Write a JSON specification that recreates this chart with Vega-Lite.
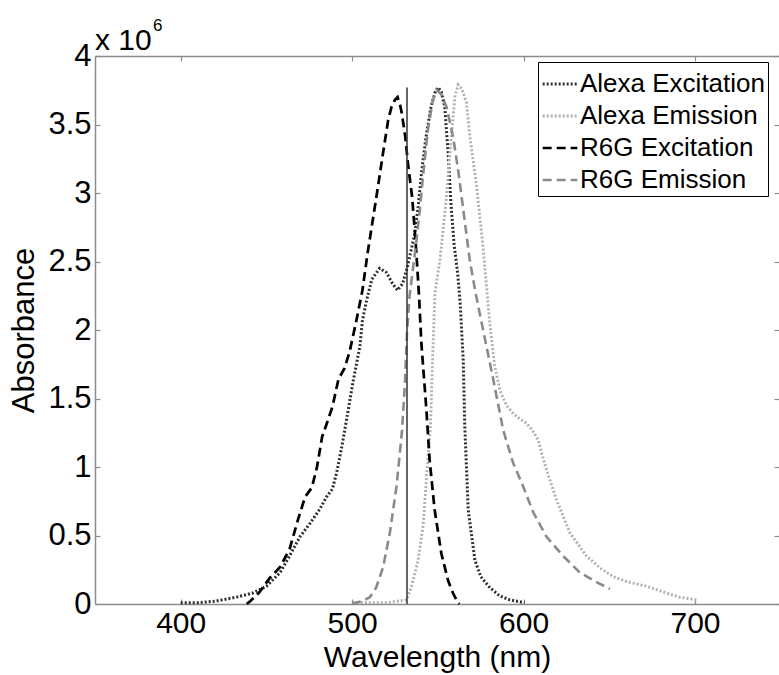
{
  "$schema": "https://vega.github.io/schema/vega-lite/v6.json",
  "width": 684,
  "height": 548,
  "autosize": {"type": "none"},
  "padding": {"left": 95, "top": 56, "right": 0, "bottom": 71},
  "background": "white",
  "config": {
    "view": {"stroke": null},
    "font": "Liberation Sans",
    "axis": {
      "grid": false,
      "domainColor": "#8c8c8c",
      "domainWidth": 1.5,
      "tickColor": "#8c8c8c",
      "tickWidth": 1.2,
      "tickSize": -5,
      "labelColor": "#000000",
      "titleColor": "#000000",
      "labelFont": "Liberation Sans",
      "titleFont": "Liberation Sans",
      "titleFontWeight": "normal",
      "labelFontSize": 31,
      "titleFontSize": 31
    }
  },
  "datasets": {
    "spectra": [
      {"series": "Alexa Excitation", "wl": 400, "a": 10000},
      {"series": "Alexa Excitation", "wl": 410, "a": 10000},
      {"series": "Alexa Excitation", "wl": 420, "a": 20000},
      {"series": "Alexa Excitation", "wl": 432.5, "a": 50000},
      {"series": "Alexa Excitation", "wl": 442, "a": 80000},
      {"series": "Alexa Excitation", "wl": 450, "a": 130000},
      {"series": "Alexa Excitation", "wl": 458, "a": 230000},
      {"series": "Alexa Excitation", "wl": 463.5, "a": 350000},
      {"series": "Alexa Excitation", "wl": 469.5, "a": 490000},
      {"series": "Alexa Excitation", "wl": 475.5, "a": 590000},
      {"series": "Alexa Excitation", "wl": 481, "a": 690000},
      {"series": "Alexa Excitation", "wl": 485, "a": 780000},
      {"series": "Alexa Excitation", "wl": 488.5, "a": 840000},
      {"series": "Alexa Excitation", "wl": 491, "a": 960000},
      {"series": "Alexa Excitation", "wl": 494, "a": 1150000},
      {"series": "Alexa Excitation", "wl": 497.5, "a": 1400000},
      {"series": "Alexa Excitation", "wl": 500.5, "a": 1620000},
      {"series": "Alexa Excitation", "wl": 504.5, "a": 1880000},
      {"series": "Alexa Excitation", "wl": 506, "a": 2070000},
      {"series": "Alexa Excitation", "wl": 508.5, "a": 2220000},
      {"series": "Alexa Excitation", "wl": 511.5, "a": 2370000},
      {"series": "Alexa Excitation", "wl": 516, "a": 2450000},
      {"series": "Alexa Excitation", "wl": 520, "a": 2420000},
      {"series": "Alexa Excitation", "wl": 523.5, "a": 2340000},
      {"series": "Alexa Excitation", "wl": 526.5, "a": 2290000},
      {"series": "Alexa Excitation", "wl": 529.5, "a": 2340000},
      {"series": "Alexa Excitation", "wl": 532, "a": 2450000},
      {"series": "Alexa Excitation", "wl": 534, "a": 2560000},
      {"series": "Alexa Excitation", "wl": 536.5, "a": 2700000},
      {"series": "Alexa Excitation", "wl": 538.5, "a": 2900000},
      {"series": "Alexa Excitation", "wl": 540.5, "a": 3150000},
      {"series": "Alexa Excitation", "wl": 543, "a": 3400000},
      {"series": "Alexa Excitation", "wl": 546, "a": 3630000},
      {"series": "Alexa Excitation", "wl": 548.5, "a": 3740000},
      {"series": "Alexa Excitation", "wl": 550.2, "a": 3770000},
      {"series": "Alexa Excitation", "wl": 552, "a": 3740000},
      {"series": "Alexa Excitation", "wl": 554, "a": 3630000},
      {"series": "Alexa Excitation", "wl": 556, "a": 3290000},
      {"series": "Alexa Excitation", "wl": 557.6, "a": 2930000},
      {"series": "Alexa Excitation", "wl": 559.5, "a": 2620000},
      {"series": "Alexa Excitation", "wl": 561.5, "a": 2420000},
      {"series": "Alexa Excitation", "wl": 563, "a": 2200000},
      {"series": "Alexa Excitation", "wl": 564.8, "a": 1780000},
      {"series": "Alexa Excitation", "wl": 565.7, "a": 1300000},
      {"series": "Alexa Excitation", "wl": 567.7, "a": 690000},
      {"series": "Alexa Excitation", "wl": 571.6, "a": 320000},
      {"series": "Alexa Excitation", "wl": 575, "a": 200000},
      {"series": "Alexa Excitation", "wl": 580.3, "a": 120000},
      {"series": "Alexa Excitation", "wl": 586, "a": 60000},
      {"series": "Alexa Excitation", "wl": 592, "a": 30000},
      {"series": "Alexa Excitation", "wl": 600.5, "a": 10000},

      {"series": "Alexa Emission", "wl": 500.4, "a": 10000},
      {"series": "Alexa Emission", "wl": 510, "a": 10000},
      {"series": "Alexa Emission", "wl": 520, "a": 10000},
      {"series": "Alexa Emission", "wl": 526, "a": 20000},
      {"series": "Alexa Emission", "wl": 531.8, "a": 30000},
      {"series": "Alexa Emission", "wl": 534.7, "a": 130000},
      {"series": "Alexa Emission", "wl": 538.5, "a": 320000},
      {"series": "Alexa Emission", "wl": 541.4, "a": 570000},
      {"series": "Alexa Emission", "wl": 543.4, "a": 930000},
      {"series": "Alexa Emission", "wl": 545.7, "a": 1300000},
      {"series": "Alexa Emission", "wl": 546.9, "a": 1780000},
      {"series": "Alexa Emission", "wl": 548.3, "a": 2270000},
      {"series": "Alexa Emission", "wl": 551.3, "a": 2520000},
      {"series": "Alexa Emission", "wl": 554.7, "a": 2930000},
      {"series": "Alexa Emission", "wl": 557, "a": 3290000},
      {"series": "Alexa Emission", "wl": 558.7, "a": 3530000},
      {"series": "Alexa Emission", "wl": 559.9, "a": 3700000},
      {"series": "Alexa Emission", "wl": 561.8, "a": 3790000},
      {"series": "Alexa Emission", "wl": 564, "a": 3760000},
      {"series": "Alexa Emission", "wl": 566.7, "a": 3660000},
      {"series": "Alexa Emission", "wl": 568.7, "a": 3410000},
      {"series": "Alexa Emission", "wl": 572.6, "a": 3050000},
      {"series": "Alexa Emission", "wl": 576.4, "a": 2600000},
      {"series": "Alexa Emission", "wl": 578, "a": 2370000},
      {"series": "Alexa Emission", "wl": 580.3, "a": 2050000},
      {"series": "Alexa Emission", "wl": 583, "a": 1750000},
      {"series": "Alexa Emission", "wl": 586.2, "a": 1560000},
      {"series": "Alexa Emission", "wl": 590, "a": 1450000},
      {"series": "Alexa Emission", "wl": 594, "a": 1390000},
      {"series": "Alexa Emission", "wl": 598, "a": 1350000},
      {"series": "Alexa Emission", "wl": 601.7, "a": 1320000},
      {"series": "Alexa Emission", "wl": 605, "a": 1270000},
      {"series": "Alexa Emission", "wl": 608.5, "a": 1200000},
      {"series": "Alexa Emission", "wl": 611, "a": 1080000},
      {"series": "Alexa Emission", "wl": 613.4, "a": 980000},
      {"series": "Alexa Emission", "wl": 619.2, "a": 760000},
      {"series": "Alexa Emission", "wl": 627, "a": 520000},
      {"series": "Alexa Emission", "wl": 636.7, "a": 350000},
      {"series": "Alexa Emission", "wl": 645, "a": 260000},
      {"series": "Alexa Emission", "wl": 652.2, "a": 200000},
      {"series": "Alexa Emission", "wl": 661, "a": 160000},
      {"series": "Alexa Emission", "wl": 671.7, "a": 130000},
      {"series": "Alexa Emission", "wl": 681, "a": 90000},
      {"series": "Alexa Emission", "wl": 691, "a": 50000},
      {"series": "Alexa Emission", "wl": 700.8, "a": 30000},

      {"series": "R6G Excitation", "wl": 438.5, "a": 0},
      {"series": "R6G Excitation", "wl": 440.5, "a": 20000},
      {"series": "R6G Excitation", "wl": 445.5, "a": 80000},
      {"series": "R6G Excitation", "wl": 452, "a": 190000},
      {"series": "R6G Excitation", "wl": 458, "a": 270000},
      {"series": "R6G Excitation", "wl": 463.5, "a": 400000},
      {"series": "R6G Excitation", "wl": 468.5, "a": 620000},
      {"series": "R6G Excitation", "wl": 472.5, "a": 780000},
      {"series": "R6G Excitation", "wl": 476.5, "a": 850000},
      {"series": "R6G Excitation", "wl": 479.5, "a": 1000000},
      {"series": "R6G Excitation", "wl": 482.5, "a": 1220000},
      {"series": "R6G Excitation", "wl": 485, "a": 1310000},
      {"series": "R6G Excitation", "wl": 488.5, "a": 1440000},
      {"series": "R6G Excitation", "wl": 492, "a": 1640000},
      {"series": "R6G Excitation", "wl": 495.5, "a": 1720000},
      {"series": "R6G Excitation", "wl": 498.5, "a": 1840000},
      {"series": "R6G Excitation", "wl": 502.5, "a": 2070000},
      {"series": "R6G Excitation", "wl": 506, "a": 2290000},
      {"series": "R6G Excitation", "wl": 509, "a": 2560000},
      {"series": "R6G Excitation", "wl": 512, "a": 2800000},
      {"series": "R6G Excitation", "wl": 514.5, "a": 3000000},
      {"series": "R6G Excitation", "wl": 518, "a": 3290000},
      {"series": "R6G Excitation", "wl": 521, "a": 3530000},
      {"series": "R6G Excitation", "wl": 523, "a": 3630000},
      {"series": "R6G Excitation", "wl": 525, "a": 3680000},
      {"series": "R6G Excitation", "wl": 526.5, "a": 3700000},
      {"series": "R6G Excitation", "wl": 528, "a": 3640000},
      {"series": "R6G Excitation", "wl": 529, "a": 3580000},
      {"series": "R6G Excitation", "wl": 531, "a": 3410000},
      {"series": "R6G Excitation", "wl": 532.5, "a": 3220000},
      {"series": "R6G Excitation", "wl": 535, "a": 2970000},
      {"series": "R6G Excitation", "wl": 536.5, "a": 2730000},
      {"series": "R6G Excitation", "wl": 537.6, "a": 2540000},
      {"series": "R6G Excitation", "wl": 539, "a": 2250000},
      {"series": "R6G Excitation", "wl": 540.4, "a": 1900000},
      {"series": "R6G Excitation", "wl": 543.3, "a": 1420000},
      {"series": "R6G Excitation", "wl": 545.2, "a": 1050000},
      {"series": "R6G Excitation", "wl": 548.1, "a": 690000},
      {"series": "R6G Excitation", "wl": 552, "a": 370000},
      {"series": "R6G Excitation", "wl": 556, "a": 170000},
      {"series": "R6G Excitation", "wl": 558.8, "a": 80000},
      {"series": "R6G Excitation", "wl": 561.7, "a": 10000},
      {"series": "R6G Excitation", "wl": 562.5, "a": 0},

      {"series": "R6G Emission", "wl": 500, "a": 0},
      {"series": "R6G Emission", "wl": 502, "a": 10000},
      {"series": "R6G Emission", "wl": 506, "a": 20000},
      {"series": "R6G Emission", "wl": 510.3, "a": 50000},
      {"series": "R6G Emission", "wl": 514, "a": 120000},
      {"series": "R6G Emission", "wl": 518.1, "a": 270000},
      {"series": "R6G Emission", "wl": 522, "a": 520000},
      {"series": "R6G Emission", "wl": 525.9, "a": 860000},
      {"series": "R6G Emission", "wl": 529, "a": 1250000},
      {"series": "R6G Emission", "wl": 530.8, "a": 1610000},
      {"series": "R6G Emission", "wl": 532, "a": 1980000},
      {"series": "R6G Emission", "wl": 533.5, "a": 2250000},
      {"series": "R6G Emission", "wl": 535.5, "a": 2450000},
      {"series": "R6G Emission", "wl": 537.5, "a": 2650000},
      {"series": "R6G Emission", "wl": 539.5, "a": 2880000},
      {"series": "R6G Emission", "wl": 541.3, "a": 3120000},
      {"series": "R6G Emission", "wl": 544.2, "a": 3460000},
      {"series": "R6G Emission", "wl": 547.1, "a": 3680000},
      {"series": "R6G Emission", "wl": 549.5, "a": 3750000},
      {"series": "R6G Emission", "wl": 552, "a": 3720000},
      {"series": "R6G Emission", "wl": 555, "a": 3630000},
      {"series": "R6G Emission", "wl": 558.9, "a": 3410000},
      {"series": "R6G Emission", "wl": 561.8, "a": 3170000},
      {"series": "R6G Emission", "wl": 564.8, "a": 2880000},
      {"series": "R6G Emission", "wl": 568.5, "a": 2520000},
      {"series": "R6G Emission", "wl": 572, "a": 2270000},
      {"series": "R6G Emission", "wl": 576.4, "a": 2000000},
      {"series": "R6G Emission", "wl": 582.3, "a": 1640000},
      {"series": "R6G Emission", "wl": 588.1, "a": 1270000},
      {"series": "R6G Emission", "wl": 593.9, "a": 1030000},
      {"series": "R6G Emission", "wl": 599.7, "a": 860000},
      {"series": "R6G Emission", "wl": 605.6, "a": 670000},
      {"series": "R6G Emission", "wl": 613.4, "a": 490000},
      {"series": "R6G Emission", "wl": 623.1, "a": 350000},
      {"series": "R6G Emission", "wl": 632.8, "a": 230000},
      {"series": "R6G Emission", "wl": 642.5, "a": 160000},
      {"series": "R6G Emission", "wl": 650.3, "a": 110000}
    ],
    "laser": [{"wl": 532, "lo": 0, "hi": 3770000}],
    "exponent": [{"wl": 350, "a": 4000000}]
  },
  "layer": [
    {
      "data": {"name": "spectra"},
      "mark": {"type": "line", "interpolate": "linear"},
      "encoding": {
        "x": {
          "field": "wl", "type": "quantitative",
          "scale": {"domain": [350, 749], "nice": false, "zero": false},
          "axis": {"orient": "bottom", "title": "Wavelength (nm)", "values": [400, 500, 600, 700], "format": "d", "labelFontSize": 30, "labelPadding": 9, "titleFontSize": 30, "titlePadding": 4}
        },
        "y": {
          "field": "a", "type": "quantitative",
          "scale": {"domain": [0, 4000000], "nice": false},
          "axis": {"orient": "left", "title": "Absorbance", "values": [0, 500000, 1000000, 1500000, 2000000, 2500000, 3000000, 3500000, 4000000], "labelExpr": "datum.value / 1000000", "labelPadding": 9, "titlePadding": 7}
        },
        "color": {
          "field": "series", "type": "nominal",
          "scale": {"domain": ["Alexa Excitation", "Alexa Emission", "R6G Excitation", "R6G Emission"], "range": ["#2e2e2e", "#b0b0b0", "#000000", "#8a8a8a"]},
          "legend": {"orient": "none", "legendX": 443, "legendY": 6, "title": null, "symbolType": "stroke", "symbolSize": 1200, "labelFontSize": 26, "labelLimit": 400, "labelFont": "Liberation Sans", "labelColor": "#000000", "labelOffset": 1, "padding": 3, "rowPadding": 0, "strokeColor": "#000000", "fillColor": "#ffffff", "labelExpr": "datum.label + '\u00a0\u00a0\u00a0\u00a0'"}
        },
        "strokeDash": {
          "field": "series", "type": "nominal",
          "scale": {"domain": ["Alexa Excitation", "Alexa Emission", "R6G Excitation", "R6G Emission"], "range": [[2, 2], [2, 2], [9, 5], [9, 5]]},
          "legend": {"orient": "none", "legendX": 443, "legendY": 6, "title": null, "symbolType": "stroke", "symbolSize": 1200, "labelFontSize": 26, "labelLimit": 400, "labelFont": "Liberation Sans", "labelColor": "#000000", "labelOffset": 1, "padding": 3, "rowPadding": 0, "strokeColor": "#000000", "fillColor": "#ffffff", "labelExpr": "datum.label + '\u00a0\u00a0\u00a0\u00a0'"}
        },
        "strokeWidth": {
          "field": "series", "type": "nominal",
          "scale": {"domain": ["Alexa Excitation", "Alexa Emission", "R6G Excitation", "R6G Emission"], "range": [3, 2.6, 4, 4]},
          "legend": {"orient": "none", "legendX": 443, "legendY": 6, "title": null, "symbolType": "stroke", "symbolSize": 1200, "labelFontSize": 26, "labelLimit": 400, "labelFont": "Liberation Sans", "labelColor": "#000000", "labelOffset": 1, "padding": 3, "rowPadding": 0, "strokeColor": "#000000", "fillColor": "#ffffff", "labelExpr": "datum.label + '\u00a0\u00a0\u00a0\u00a0'"}
        },
        "order": {"field": "wl", "type": "quantitative"}
      }
    },
    {
      "data": {"name": "laser"},
      "mark": {"type": "rule", "color": "#333333", "strokeWidth": 1.5},
      "encoding": {
        "x": {"field": "wl", "type": "quantitative", "axis": {"orient": "top", "title": null, "labels": false, "values": [400, 500, 600, 700]}},
        "y": {"field": "lo", "type": "quantitative", "axis": {"orient": "right", "title": null, "labels": false, "domain": false, "values": [0, 500000, 1000000, 1500000, 2000000, 2500000, 3000000, 3500000, 4000000]}},
        "y2": {"field": "hi"}
      }
    },
    {
      "data": {"name": "exponent"},
      "mark": {"type": "text", "text": "x 10", "align": "left", "baseline": "alphabetic", "fontSize": 30, "font": "Liberation Sans", "color": "#000000", "dy": -6},
      "encoding": {
        "x": {"field": "wl", "type": "quantitative", "axis": null},
        "y": {"field": "a", "type": "quantitative", "axis": null}
      }
    },
    {
      "data": {"name": "exponent"},
      "mark": {"type": "text", "text": "6", "align": "left", "baseline": "alphabetic", "fontSize": 17, "font": "Liberation Sans", "color": "#000000", "dx": 58, "dy": -25},
      "encoding": {
        "x": {"field": "wl", "type": "quantitative", "axis": null},
        "y": {"field": "a", "type": "quantitative", "axis": null}
      }
    }
  ],
  "resolve": {"axis": {"x": "independent", "y": "independent"}}
}
